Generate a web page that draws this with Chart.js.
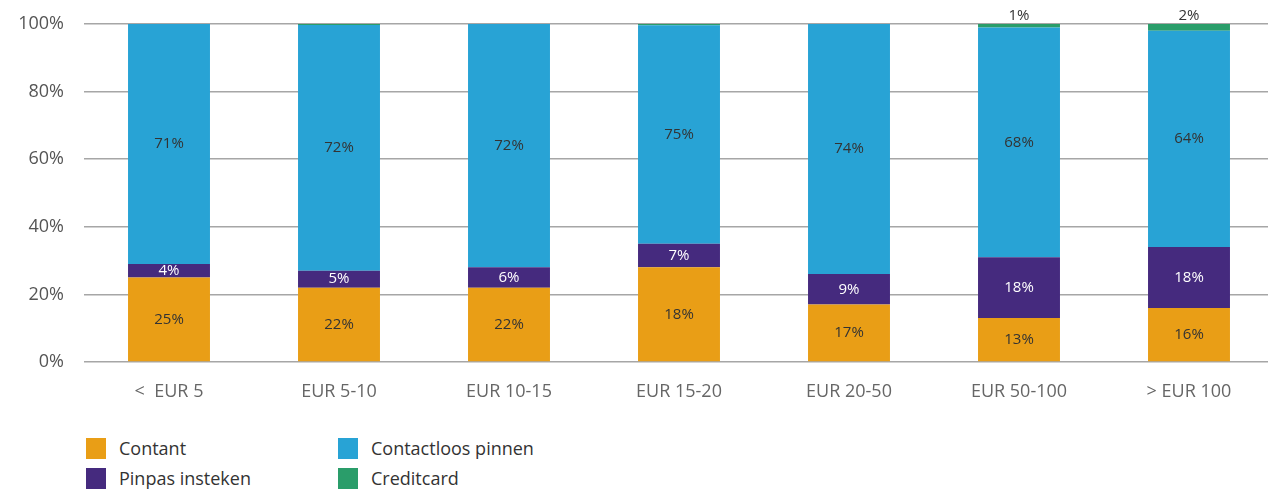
<!DOCTYPE html>
<html lang="nl">
<head>
  <meta charset="UTF-8" />
  <title>Betaalmiddel per bedragsklasse</title>
  <script src="https://cdn.jsdelivr.net/npm/chart.js"></script>
  <style>
    html, body { margin: 0; padding: 0; background: #fff; overflow: hidden; }
    body { width: 1268px; height: 491px; position: relative; font-family: "Open Sans", sans-serif; }
    #wrap { position: absolute; left: 0; top: 0; width: 1274px; height: 410px; }
    #legend { position: absolute; left: 86px; top: 436px; width: 600px; }
    .item { position: absolute; display: flex; align-items: center; font-size: 18px; color: #333; }
    .sw { width: 20px; height: 21px; margin-right: 13px; }
  </style>
</head>
<body>
  <div id="wrap"><canvas id="chart" width="1274" height="410"></canvas></div>
  <div id="legend"></div>

  <script>
    const categories = ['<  EUR 5', 'EUR 5-10', 'EUR 10-15', 'EUR 15-20', 'EUR 20-50', 'EUR 50-100', '> EUR 100'];

    // bar heights as drawn in the picture
    const contant     = [25, 22, 22, 28, 17, 13, 16];
    const pinpas      = [4, 5, 6, 7, 9, 18, 18];
    const contactloos = [71, 72.7, 72, 64.6, 74, 68, 64];
    const creditcard  = [0, 0.3, 0, 0.4, 0, 1, 2];

    // printed labels (as in the original, not always equal to the bar height)
    const contantLbl     = ['25%', '22%', '22%', '18%', '17%', '13%', '16%'];
    const pinpasLbl      = ['4%', '5%', '6%', '7%', '9%', '18%', '18%'];
    const contactloosLbl = ['71%', '72%', '72%', '75%', '74%', '68%', '64%'];
    const creditcardLbl  = ['', '', '', '', '', '1%', '2%'];

    const yTicks = [0, 20, 40, 60, 80, 100];

    const series = [
      { label: 'Contant', data: contant, labels: contantLbl, color: '#E99E16', text: '#333' },
      { label: 'Pinpas insteken', data: pinpas, labels: pinpasLbl, color: '#452A7E', text: '#fff' },
      { label: 'Contactloos pinnen', data: contactloos, labels: contactloosLbl, color: '#28A3D5', text: '#333' },
      { label: 'Creditcard', data: creditcard, labels: creditcardLbl, color: '#2A9D6A', text: '#333', above: true }
    ];

    const segLabels = {
      id: 'segLabels',
      afterDatasetsDraw(chart) {
        const ctx = chart.ctx;
        ctx.save();
        ctx.font = '15px "Open Sans", sans-serif';
        ctx.textAlign = 'center';
        ctx.textBaseline = 'middle';
        chart.data.datasets.forEach((ds, i) => {
          const s = series[i];
          chart.getDatasetMeta(i).data.forEach((bar, j) => {
            const txt = s.labels[j];
            if (!txt) return;
            ctx.fillStyle = s.text;
            if (s.above) {
              ctx.fillText(txt, bar.x, bar.y - 8);
            } else {
              ctx.fillText(txt, bar.x, (bar.y + bar.base) / 2);
            }
          });
        });
        ctx.restore();
      }
    };

    new Chart(document.getElementById('chart'), {
      type: 'bar',
      data: {
        labels: categories,
        datasets: series.map(s => ({
          label: s.label,
          data: s.data,
          backgroundColor: s.color,
          borderWidth: 0,
          barPercentage: 0.482,
          categoryPercentage: 1
        }))
      },
      options: {
        responsive: false,
        animation: false,
        layout: { padding: { top: 24, left: 0, right: 0, bottom: 0 } },
        plugins: { legend: { display: false }, tooltip: { enabled: false } },
        scales: {
          x: {
            stacked: true,
            grid: { display: false },
            border: { display: false },
            ticks: { color: '#666', font: { family: 'Open Sans', size: 18 }, padding: 11, maxRotation: 0 },
            afterFit(scale) { scale.height = 48; }
          },
          y: {
            stacked: true,
            min: 0,
            max: 100,
            afterBuildTicks(scale) { scale.ticks = yTicks.map(v => ({ value: v })); },
            grid: { color: '#a6a6a6', lineWidth: 1.5, drawTicks: false },
            border: { display: false },
            ticks: {
              color: '#555',
              font: { family: 'Open Sans', size: 18 },
              padding: 20,
              callback: v => v + '%'
            },
            afterFit(scale) {
              scale.width = 84;
              scale.paddingTop = 0;
              scale.paddingBottom = 0;
            }
          }
        }
      },
      plugins: [segLabels]
    });

    // legend, two columns
    const legend = document.getElementById('legend');
    const pos = [[0, 0], [0, 30], [252, 0], [252, 30]];
    [series[0], series[1], series[2], series[3]].forEach((s, i) => {
      const el = document.createElement('div');
      el.className = 'item';
      el.style.left = pos[i][0] + 'px';
      el.style.top = pos[i][1] + 'px';
      el.innerHTML = '<span class="sw" style="background:' + s.color + '"></span><span>' + s.label + '</span>';
      legend.appendChild(el);
    });
  </script>
</body>
</html>
